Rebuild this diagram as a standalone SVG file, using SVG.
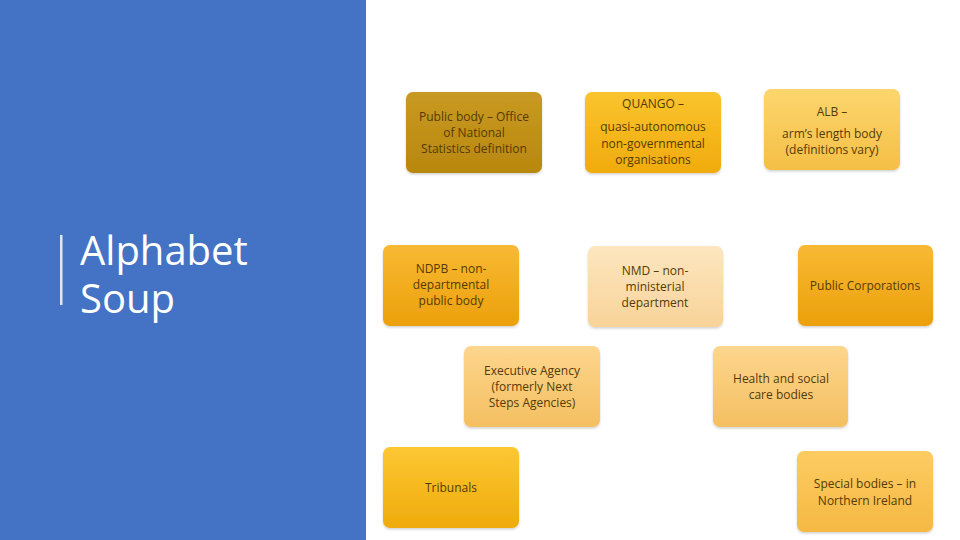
<svg xmlns="http://www.w3.org/2000/svg" width="960" height="540" viewBox="0 0 960 540">
<defs>
<linearGradient id="gDark" x1="0" y1="0" x2="0" y2="1"><stop offset="0" stop-color="#c99a22"/><stop offset="1" stop-color="#b8870e"/></linearGradient>
<linearGradient id="gGold" x1="0" y1="0" x2="0" y2="1"><stop offset="0" stop-color="#fac42e"/><stop offset="1" stop-color="#f0ab0c"/></linearGradient>
<linearGradient id="gLight" x1="0" y1="0" x2="0" y2="1"><stop offset="0" stop-color="#fcd66e"/><stop offset="1" stop-color="#f5bf45"/></linearGradient>
<linearGradient id="gOrange" x1="0" y1="0" x2="0" y2="1"><stop offset="0" stop-color="#f8b934"/><stop offset="1" stop-color="#eca00a"/></linearGradient>
<linearGradient id="gPale" x1="0" y1="0" x2="0" y2="1"><stop offset="0" stop-color="#fde6bf"/><stop offset="1" stop-color="#f8d399"/></linearGradient>
<linearGradient id="gPeach" x1="0" y1="0" x2="0" y2="1"><stop offset="0" stop-color="#fdd68e"/><stop offset="1" stop-color="#f4bf60"/></linearGradient>
<linearGradient id="gTrib" x1="0" y1="0" x2="0" y2="1"><stop offset="0" stop-color="#fdc733"/><stop offset="1" stop-color="#efab0c"/></linearGradient>
<linearGradient id="gSpec" x1="0" y1="0" x2="0" y2="1"><stop offset="0" stop-color="#fdcc62"/><stop offset="1" stop-color="#f5b843"/></linearGradient>
<filter id="sh" x="-10%" y="-10%" width="120%" height="130%"><feDropShadow dx="0" dy="1.5" stdDeviation="1.2" flood-color="#000" flood-opacity="0.18"/></filter>
</defs>
<style>
.box{filter:url(#sh)}
.t{font-family:"Open Sans","Liberation Sans",sans-serif;font-size:12px;fill:#553a06;text-anchor:middle}
.title{font-family:"Open Sans","Liberation Sans",sans-serif;font-weight:400;font-size:40px;fill:#ffffff}
</style>
<rect x="0" y="0" width="960" height="540" fill="#ffffff"/>
<rect x="0" y="0" width="366" height="540" fill="#4472c4"/>
<g id="title">
<rect x="60" y="235" width="2.5" height="70" fill="#dde6f5"/>
<text class="title" x="80" y="265">Alphabet</text>
<text class="title" x="80" y="313">Soup</text>
</g>
<g id="connectors"/>
<g id="n-public-body">
<rect class="box" x="406" y="92" width="136" height="81" rx="7" fill="url(#gDark)"/>
<text class="t" x="474" y="121">Public body – Office</text>
<text class="t" x="474" y="137">of National</text>
<text class="t" x="474" y="153">Statistics definition</text>
</g>
<g id="n-quango">
<rect class="box" x="585" y="92" width="136" height="81" rx="7" fill="url(#gGold)"/>
<text class="t" x="653" y="108">QUANGO –</text>
<text class="t" x="653" y="131">quasi-autonomous</text>
<text class="t" x="653" y="148">non-governmental</text>
<text class="t" x="653" y="164">organisations</text>
</g>
<g id="n-alb">
<rect class="box" x="764" y="89" width="136" height="81" rx="7" fill="url(#gLight)"/>
<text class="t" x="832" y="116">ALB –</text>
<text class="t" x="832" y="138">arm’s length body</text>
<text class="t" x="832" y="154">(definitions vary)</text>
</g>
<g id="n-ndpb">
<rect class="box" x="383" y="245" width="136" height="81" rx="7" fill="url(#gOrange)"/>
<text class="t" x="451" y="273">NDPB – non-</text>
<text class="t" x="451" y="289">departmental</text>
<text class="t" x="451" y="305">public body</text>
</g>
<g id="n-nmd">
<rect class="box" x="588" y="246" width="135" height="81" rx="7" fill="url(#gPale)"/>
<text class="t" x="655" y="275">NMD – non-</text>
<text class="t" x="655" y="291">ministerial</text>
<text class="t" x="655" y="307">department</text>
</g>
<g id="n-public-corp">
<rect class="box" x="798" y="245" width="135" height="81" rx="7" fill="url(#gOrange)"/>
<text class="t" x="865" y="290">Public Corporations</text>
</g>
<g id="n-exec-agency">
<rect class="box" x="464" y="346" width="136" height="81" rx="7" fill="url(#gPeach)"/>
<text class="t" x="532" y="375">Executive Agency</text>
<text class="t" x="532" y="391">(formerly Next</text>
<text class="t" x="532" y="407">Steps Agencies)</text>
</g>
<g id="n-health">
<rect class="box" x="713" y="346" width="135" height="81" rx="7" fill="url(#gPeach)"/>
<text class="t" x="781" y="383">Health and social</text>
<text class="t" x="781" y="399">care bodies</text>
</g>
<g id="n-tribunals">
<rect class="box" x="383" y="447" width="136" height="81" rx="7" fill="url(#gTrib)"/>
<text class="t" x="451" y="492">Tribunals</text>
</g>
<g id="n-special">
<rect class="box" x="797" y="451" width="136" height="81" rx="7" fill="url(#gSpec)"/>
<text class="t" x="865" y="488">Special bodies – in</text>
<text class="t" x="865" y="505">Northern Ireland</text>
</g>
</svg>
